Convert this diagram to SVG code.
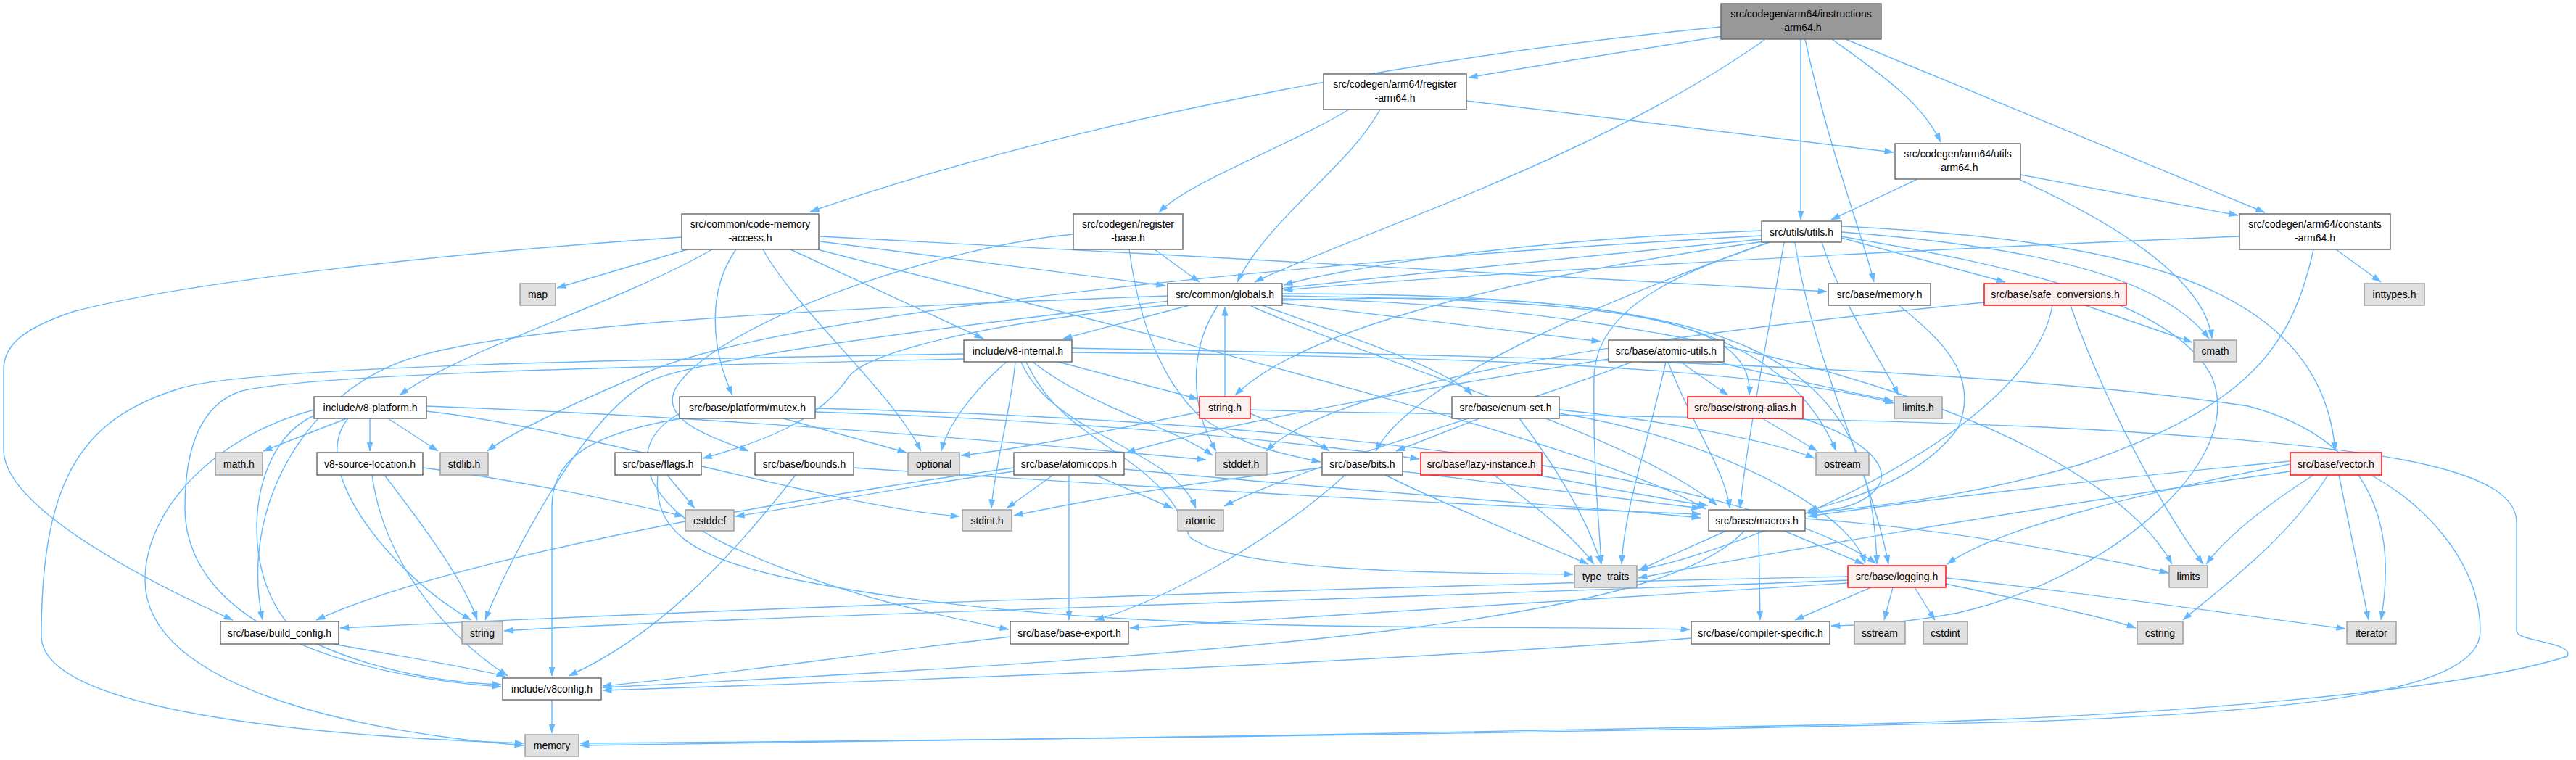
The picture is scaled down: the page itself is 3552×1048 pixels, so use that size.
<svg xmlns="http://www.w3.org/2000/svg" width="3552" height="1048" viewBox="0 0 3552 1048">
<defs>
<style>
rect{stroke-width:1.4}
.n{fill:#fff;stroke:#666}
.r{fill:#fff0f0;stroke:#ff0000}
.g{fill:#e0e0e0;stroke:#999}
.m{fill:#999;stroke:#666}
text{font-family:"Liberation Sans",Arial,sans-serif;font-size:14px;fill:#000;text-anchor:middle}
#edges path{fill:none;stroke:#63b8ff;stroke-width:1.4;marker-end:url(#a)}
</style>
<marker id="a" markerWidth="13" markerHeight="9" refX="12.5" refY="4.5" orient="auto" markerUnits="userSpaceOnUse"><path d="M0,0 L13,4.5 L0,9 z" fill="#63b8ff" stroke="none"/></marker>
</defs>
<rect width="3552" height="1048" fill="#fff"/>
<g id="edges">
<path d="M2373,37 C1980,75 1500,160 1117,292"/>
<path d="M2373,50 C2250,70 2120,90 2025,107"/>
<path d="M2433,55 C2200,220 1850,330 1730,389"/>
<path d="M2483,54 L2483,303"/>
<path d="M2489,54 C2520,200 2570,330 2584,389"/>
<path d="M2526,54 C2590,100 2650,140 2676,196"/>
<path d="M2545,54 L3123,293"/>
<path d="M2022,139 L2611,210"/>
<path d="M1860,151 C1780,200 1640,250 1598,293"/>
<path d="M1903,151 C1860,230 1750,300 1706,389"/>
<path d="M2644,247 L2525,303"/>
<path d="M2786,241 L3086,297"/>
<path d="M2785,248 C2900,300 3040,380 3050,467"/>
<path d="M3088,326 C2500,350 2000,380 1770,400"/>
<path d="M3221,344 L3283,389"/>
<path d="M3190,344 C3160,480 3100,560 2870,640 C2700,690 2560,700 2493,708"/>
<path d="M1592,344 L1654,389"/>
<path d="M1480,323 C1300,340 1000,440 935,530 C900,580 990,605 1032,622"/>
<path d="M1557,344 C1570,440 1600,520 1650,570 C1700,610 1760,625 1821,637"/>
<path d="M948,344 L768,397"/>
<path d="M1090,344 L1356,467"/>
<path d="M982,344 C850,420 640,480 551,545"/>
<path d="M940,327 C600,350 250,390 100,430 C25,455 5,480 5,510 L5,620 C5,700 200,800 321,855"/>
<path d="M1127,344 C1500,440 2200,610 2352,702"/>
<path d="M1131,326 C1600,350 2200,385 2519,402"/>
<path d="M1052,344 C1100,430 1230,540 1270,622"/>
<path d="M1015,344 C975,400 980,480 1010,545"/>
<path d="M1131,333 L1607,394"/>
<path d="M2429,318 C2100,330 1850,370 1770,393"/>
<path d="M2512,334 C2540,420 2590,490 2618,545"/>
<path d="M2429,325 C1800,360 1100,430 900,510 C780,560 700,600 672,622"/>
<path d="M2432,333 C2100,380 1800,450 1703,545"/>
<path d="M2539,320 C2800,340 2980,380 3046,467"/>
<path d="M2440,334 C2250,400 1950,520 1897,622"/>
<path d="M2539,326 C2800,370 3000,420 3050,520 C3100,640 2900,800 2700,845 C2620,860 2570,862 2525,863"/>
<path d="M2475,334 C2500,500 2580,650 2604,778"/>
<path d="M2460,334 C2440,450 2410,600 2399,701"/>
<path d="M2539,328 L2765,389"/>
<path d="M2539,312 C2900,330 3200,380 3220,622"/>
<path d="M2440,334 C2300,380 2200,430 2198,520 C2196,640 2205,720 2208,778"/>
<path d="M2429,330 C1700,400 1000,480 900,524 C800,570 690,800 669,855"/>
<path d="M1640,421 L1466,467"/>
<path d="M1768,418 L2207,471"/>
<path d="M1610,408 C1300,420 700,440 550,500 C420,550 330,700 362,855"/>
<path d="M1679,422 C1640,480 1640,560 1677,622"/>
<path d="M1740,421 C1850,460 2000,510 2030,545"/>
<path d="M1610,421 C1400,440 1200,480 1170,520 C1130,580 1050,610 969,632"/>
<path d="M1768,405 C2400,405 2580,480 2588,778"/>
<path d="M1725,422 C1900,500 2250,600 2368,697"/>
<path d="M1768,408 C2200,415 2420,430 2412,545"/>
<path d="M1768,414 C2200,400 2450,430 2532,622"/>
<path d="M1768,412 C2400,420 2900,600 2995,778"/>
<path d="M1689,547 L1689,423"/>
<path d="M2618,421 C2680,470 2730,520 2700,590 C2650,660 2550,690 2493,704"/>
<path d="M2875,421 L3023,472"/>
<path d="M2855,421 C2900,550 2980,700 3038,778"/>
<path d="M2830,421 C2800,600 2400,760 2259,786"/>
<path d="M2736,417 C2300,460 1850,520 1746,622"/>
<path d="M1400,499 C1395,560 1370,650 1367,701"/>
<path d="M1459,499 L1652,550"/>
<path d="M1408,499 C1450,600 1620,620 1649,701"/>
<path d="M1424,499 C1500,560 1620,590 1672,628"/>
<path d="M1478,480 C2000,490 2700,500 3100,560 C3250,600 3310,700 3283,855"/>
<path d="M1388,499 C1340,540 1305,590 1298,622"/>
<path d="M1415,499 C1470,620 1600,620 1640,740 C1700,790 2000,790 2169,792"/>
<path d="M1478,486 C1900,490 2400,500 2612,556"/>
<path d="M1329,488 C900,495 350,505 250,535 C120,575 57,650 57,877 C57,960 300,1010 722,1025"/>
<path d="M1329,495 C900,505 420,515 330,540 C275,560 255,620 255,700 C255,850 450,930 691,947"/>
<path d="M478,577 L363,622"/>
<path d="M510,577 L510,622"/>
<path d="M535,577 L604,622"/>
<path d="M588,560 C1000,575 1400,610 1663,634"/>
<path d="M588,567 C800,590 1150,700 1323,712"/>
<path d="M433,565 C300,600 200,700 200,800 C200,950 500,1010 722,1028"/>
<path d="M480,577 C420,650 550,800 650,855"/>
<path d="M433,573 C330,620 330,820 420,880 C520,930 630,942 691,944"/>
<path d="M583,645 C700,660 850,690 943,712"/>
<path d="M530,655 C580,720 640,800 658,855"/>
<path d="M513,655 C530,780 620,880 700,932"/>
<path d="M1080,577 L1250,624"/>
<path d="M937,570 C850,620 900,700 1000,750 C1150,820 1300,850 1391,868"/>
<path d="M1124,563 C1800,580 2400,650 2587,777"/>
<path d="M1124,568 C1500,580 1800,610 1957,633"/>
<path d="M940,577 C800,600 761,640 761,700 L761,932"/>
<path d="M1654,568 C1500,600 1400,620 1325,628"/>
<path d="M1724,570 C1770,590 1810,605 1833,622"/>
<path d="M1724,565 C2000,575 2600,570 3000,600 C3300,620 3470,650 3470,720 L3470,870 C3470,885 3550,885 3540,905 C3400,950 3000,990 2500,1000 C2000,1010 1200,1025 800,1028"/>
<path d="M2040,577 L1925,622"/>
<path d="M2150,570 C2350,600 2550,700 2572,777"/>
<path d="M2095,577 C2150,650 2190,720 2208,778"/>
<path d="M2150,565 C2300,580 2450,610 2502,632"/>
<path d="M2486,577 C2560,600 2610,640 2590,670 C2570,700 2520,705 2493,706"/>
<path d="M2430,577 L2506,622"/>
<path d="M920,655 L958,701"/>
<path d="M907,655 C900,730 950,770 1100,800 C1500,880 2000,860 2330,868"/>
<path d="M1177,645 C1700,680 2100,700 2345,709"/>
<path d="M1097,655 C1000,780 900,880 784,932"/>
<path d="M1452,655 L1388,701"/>
<path d="M1510,655 L1617,701"/>
<path d="M1474,655 L1474,855"/>
<path d="M1398,645 C1000,700 600,780 436,855"/>
<path d="M1398,650 C1250,670 1100,700 1014,712"/>
<path d="M1550,647 C1900,680 2200,700 2345,714"/>
<path d="M1823,645 C1600,670 1450,700 1398,711"/>
<path d="M1910,655 C2000,700 2150,760 2190,778"/>
<path d="M1855,655 C1750,750 1600,830 1510,855"/>
<path d="M1934,650 C2100,670 2250,690 2345,701"/>
<path d="M2060,655 C2120,700 2170,740 2198,778"/>
<path d="M2120,655 C2200,670 2300,690 2355,697"/>
<path d="M3158,640 C2950,680 2750,730 2685,778"/>
<path d="M3158,636 C2900,660 2650,690 2493,712"/>
<path d="M3190,655 C3120,700 3070,740 3042,778"/>
<path d="M3210,655 C3150,750 3050,820 3010,855"/>
<path d="M3225,655 L3266,855"/>
<path d="M3271,656 C3350,700 3420,780 3420,870 C3420,950 3200,980 2800,995 C2000,1015 1200,1022 800,1025"/>
<path d="M3158,650 C2800,700 2400,770 2259,797"/>
<path d="M2368,499 C2450,520 2550,540 2610,553"/>
<path d="M2250,499 C2100,560 1800,640 1688,698"/>
<path d="M2297,499 C2270,620 2240,700 2236,778"/>
<path d="M2218,495 C2000,530 1700,580 1553,624"/>
<path d="M2300,499 C2330,580 2380,650 2385,701"/>
<path d="M2317,499 L2383,545"/>
<path d="M2380,732 L2260,786"/>
<path d="M2489,715 C2700,730 2900,770 2990,790"/>
<path d="M2460,732 L2570,778"/>
<path d="M2425,732 L2427,855"/>
<path d="M2405,732 C2300,850 1800,900 831,948"/>
<path d="M2548,795 C1800,810 1000,840 469,866"/>
<path d="M2548,800 C1800,830 1000,850 695,870"/>
<path d="M2548,804 C2100,830 1800,850 1558,866"/>
<path d="M2580,810 L2475,855"/>
<path d="M2610,810 L2598,855"/>
<path d="M2640,810 L2668,855"/>
<path d="M2683,805 C2800,830 2900,850 2945,866"/>
<path d="M2683,797 C2900,820 3100,850 3234,867"/>
<path d="M2332,880 C1800,920 1200,940 831,952"/>
<path d="M1393,878 C1200,900 1000,930 831,946"/>
<path d="M460,888 C550,905 650,920 697,933"/>
<path d="M761,965 L761,1011"/>
</g>
<g id="n_main"><rect class="m" x="2373" y="5" width="221" height="49"/><text x="2483.5" y="24">src/codegen/arm64/instructions</text><text x="2483.5" y="43">-arm64.h</text></g>
<g id="n_register_arm64"><rect class="n" x="1825" y="102" width="197" height="49"/><text x="1923.5" y="121">src/codegen/arm64/register</text><text x="1923.5" y="140">-arm64.h</text></g>
<g id="n_utils_arm64"><rect class="n" x="2613" y="198" width="173" height="49"/><text x="2699.5" y="217">src/codegen/arm64/utils</text><text x="2699.5" y="236">-arm64.h</text></g>
<g id="n_code_memory_access"><rect class="n" x="940" y="295" width="189" height="49"/><text x="1034.5" y="314">src/common/code-memory</text><text x="1034.5" y="333">-access.h</text></g>
<g id="n_register_base"><rect class="n" x="1480" y="295" width="151" height="49"/><text x="1555.5" y="314">src/codegen/register</text><text x="1555.5" y="333">-base.h</text></g>
<g id="n_utils"><rect class="n" x="2429" y="305" width="110" height="29"/><text x="2484" y="324.5">src/utils/utils.h</text></g>
<g id="n_constants_arm64"><rect class="n" x="3088" y="295" width="208" height="49"/><text x="3192" y="314">src/codegen/arm64/constants</text><text x="3192" y="333">-arm64.h</text></g>
<g id="n_map"><rect class="g" x="717" y="391" width="49" height="30"/><text x="741.5" y="411">map</text></g>
<g id="n_globals"><rect class="n" x="1610" y="391" width="158" height="30"/><text x="1689" y="411">src/common/globals.h</text></g>
<g id="n_base_memory"><rect class="n" x="2521" y="391" width="141" height="30"/><text x="2591.5" y="411">src/base/memory.h</text></g>
<g id="n_safe_conversions"><rect class="r" x="2736" y="391" width="196" height="30"/><text x="2834" y="411">src/base/safe_conversions.h</text></g>
<g id="n_inttypes"><rect class="g" x="3260" y="391" width="83" height="30"/><text x="3301.5" y="411">inttypes.h</text></g>
<g id="n_v8_internal"><rect class="n" x="1329" y="469" width="149" height="30"/><text x="1403.5" y="489">include/v8-internal.h</text></g>
<g id="n_atomic_utils"><rect class="n" x="2218" y="469" width="159" height="30"/><text x="2297.5" y="489">src/base/atomic-utils.h</text></g>
<g id="n_cmath"><rect class="g" x="3025" y="469" width="59" height="30"/><text x="3054.5" y="489">cmath</text></g>
<g id="n_v8_platform"><rect class="n" x="433" y="547" width="155" height="30"/><text x="510.5" y="567">include/v8-platform.h</text></g>
<g id="n_mutex"><rect class="n" x="937" y="547" width="187" height="30"/><text x="1030.5" y="567">src/base/platform/mutex.h</text></g>
<g id="n_string_h"><rect class="r" x="1654" y="547" width="70" height="30"/><text x="1689" y="567">string.h</text></g>
<g id="n_enum_set"><rect class="n" x="2002" y="547" width="148" height="30"/><text x="2076" y="567">src/base/enum-set.h</text></g>
<g id="n_strong_alias"><rect class="r" x="2327" y="547" width="159" height="30"/><text x="2406.5" y="567">src/base/strong-alias.h</text></g>
<g id="n_limits_h"><rect class="g" x="2612" y="547" width="66" height="30"/><text x="2645" y="567">limits.h</text></g>
<g id="n_math_h"><rect class="g" x="297" y="624" width="65" height="31"/><text x="329.5" y="644.5">math.h</text></g>
<g id="n_v8_source_location"><rect class="n" x="437" y="624" width="146" height="31"/><text x="510" y="644.5">v8-source-location.h</text></g>
<g id="n_stdlib_h"><rect class="g" x="607" y="624" width="66" height="31"/><text x="640" y="644.5">stdlib.h</text></g>
<g id="n_flags"><rect class="n" x="848" y="624" width="119" height="31"/><text x="907.5" y="644.5">src/base/flags.h</text></g>
<g id="n_bounds"><rect class="n" x="1041" y="624" width="136" height="31"/><text x="1109" y="644.5">src/base/bounds.h</text></g>
<g id="n_optional"><rect class="g" x="1252" y="624" width="71" height="31"/><text x="1287.5" y="644.5">optional</text></g>
<g id="n_atomicops"><rect class="n" x="1398" y="624" width="152" height="31"/><text x="1474" y="644.5">src/base/atomicops.h</text></g>
<g id="n_stddef_h"><rect class="g" x="1676" y="624" width="71" height="31"/><text x="1711.5" y="644.5">stddef.h</text></g>
<g id="n_bits"><rect class="n" x="1823" y="624" width="111" height="31"/><text x="1878.5" y="644.5">src/base/bits.h</text></g>
<g id="n_lazy_instance"><rect class="r" x="1959" y="624" width="167" height="31"/><text x="2042.5" y="644.5">src/base/lazy-instance.h</text></g>
<g id="n_ostream"><rect class="g" x="2504" y="624" width="73" height="31"/><text x="2540.5" y="644.5">ostream</text></g>
<g id="n_vector"><rect class="r" x="3158" y="624" width="126" height="31"/><text x="3221" y="644.5">src/base/vector.h</text></g>
<g id="n_cstddef"><rect class="g" x="945" y="703" width="67" height="29"/><text x="978.5" y="722.5">cstddef</text></g>
<g id="n_stdint_h"><rect class="g" x="1327" y="703" width="68" height="29"/><text x="1361" y="722.5">stdint.h</text></g>
<g id="n_atomic"><rect class="g" x="1624" y="703" width="63" height="29"/><text x="1655.5" y="722.5">atomic</text></g>
<g id="n_macros"><rect class="n" x="2356" y="703" width="133" height="29"/><text x="2422.5" y="722.5">src/base/macros.h</text></g>
<g id="n_type_traits"><rect class="g" x="2171" y="780" width="86" height="30"/><text x="2214" y="800">type_traits</text></g>
<g id="n_logging"><rect class="r" x="2548" y="780" width="135" height="30"/><text x="2615.5" y="800">src/base/logging.h</text></g>
<g id="n_limits"><rect class="g" x="2991" y="780" width="53" height="30"/><text x="3017.5" y="800">limits</text></g>
<g id="n_build_config"><rect class="n" x="304" y="857" width="163" height="31"/><text x="385.5" y="877.5">src/base/build_config.h</text></g>
<g id="n_string"><rect class="g" x="637" y="857" width="56" height="31"/><text x="665" y="877.5">string</text></g>
<g id="n_base_export"><rect class="n" x="1393" y="857" width="163" height="31"/><text x="1474.5" y="877.5">src/base/base-export.h</text></g>
<g id="n_compiler_specific"><rect class="n" x="2332" y="857" width="191" height="31"/><text x="2427.5" y="877.5">src/base/compiler-specific.h</text></g>
<g id="n_sstream"><rect class="g" x="2557" y="857" width="70" height="31"/><text x="2592" y="877.5">sstream</text></g>
<g id="n_cstdint"><rect class="g" x="2652" y="857" width="61" height="31"/><text x="2682.5" y="877.5">cstdint</text></g>
<g id="n_cstring"><rect class="g" x="2947" y="857" width="63" height="31"/><text x="2978.5" y="877.5">cstring</text></g>
<g id="n_iterator"><rect class="g" x="3236" y="857" width="68" height="31"/><text x="3270" y="877.5">iterator</text></g>
<g id="n_v8config"><rect class="n" x="693" y="935" width="136" height="30"/><text x="761" y="955">include/v8config.h</text></g>
<g id="n_memory"><rect class="g" x="724" y="1013" width="74" height="30"/><text x="761" y="1033">memory</text></g>
</svg>
